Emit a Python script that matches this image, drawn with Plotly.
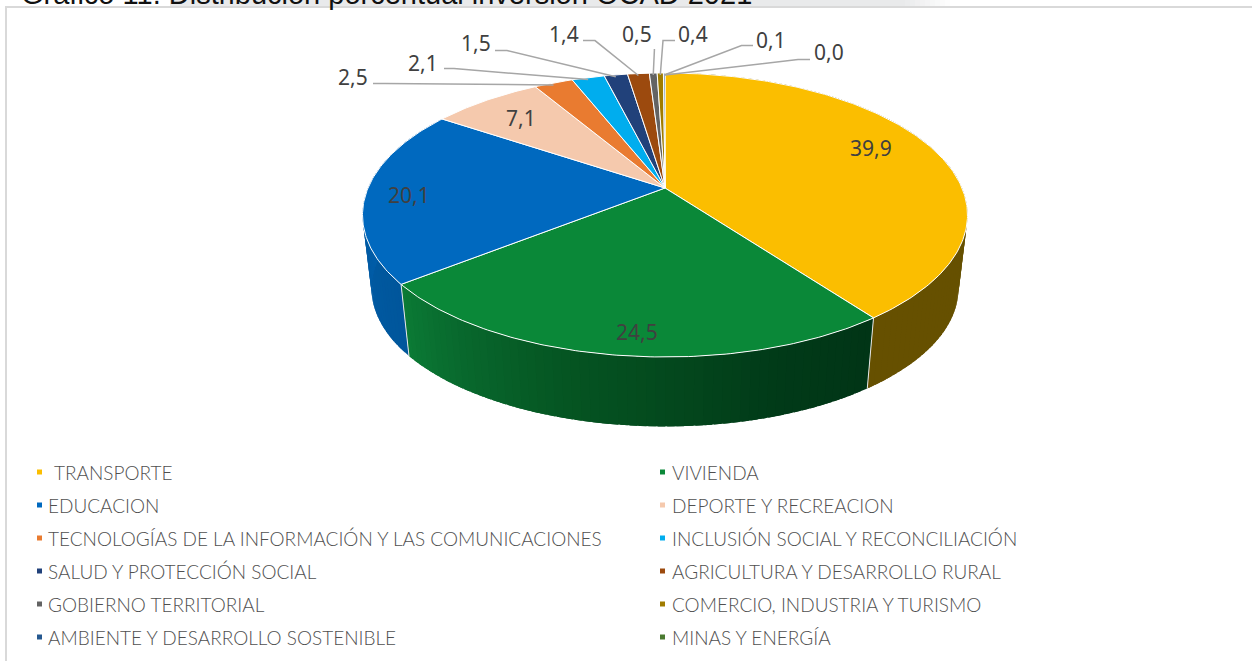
import math
import plotly.graph_objects as go

# ---------- data ----------
categories = [" TRANSPORTE", "VIVIENDA", "EDUCACION", "DEPORTE Y RECREACION",
              "TECNOLOGÍAS DE LA INFORMACIÓN Y LAS COMUNICACIONES",
              "INCLUSIÓN SOCIAL Y RECONCILIACIÓN", "SALUD Y PROTECCIÓN SOCIAL",
              "AGRICULTURA Y DESARROLLO RURAL", "GOBIERNO TERRITORIAL",
              "COMERCIO, INDUSTRIA Y TURISMO", "AMBIENTE Y DESARROLLO SOSTENIBLE",
              "MINAS Y ENERGÍA"]
values = [39.9, 24.5, 20.1, 7.1, 2.5, 2.1, 1.5, 1.4, 0.5, 0.4, 0.1, 0.0]
title_text = "Gráfico 11. Distribución porcentual inversión OCAD 2021"

# ---------- styles ----------
colors = ["#FBBE00", "#0A8838", "#0069BF", "#F5C9AD", "#E97B30", "#00ADEE",
          "#21417A", "#9C4A0E", "#636363", "#A07C00", "#25588F", "#4A7A30"]
side_stops = {0: ["#665000", "#665000"],
              1: ["#013516", "#013A18", "#03481D", "#055522", "#08662C", "#0B7A35"],
              2: ["#00569B", "#0063B3"]}
inner_label_pos = {0: (871, 148), 1: (637, 332), 2: (409, 195), 3: (521, 118)}
outer_label_pos = {4: (353, 77), 5: (423, 62.7), 6: (475.7, 43), 7: (563.5, 34.4),
                   8: (637, 34.4), 9: (692.6, 34.4), 10: (771, 39.6), 11: (829, 51.6)}
leader_elbows = {4: [(373, 83.5), (385, 83.5)], 5: [(444, 68.5), (454, 68.5)],
                 6: [(495, 50.6), (507, 50.6)], 7: [(583, 40.6), (595, 40.6)],
                 8: [(654.4, 49), (654.4, 50)], 9: [(675, 40.6), (663, 40.6)],
                 10: [(753, 45.5), (741.5, 45.5)], 11: [(810, 59.6), (798, 59.6)]}
CX, CY = 665.0, 188.0
K, A, B = 0.19, 136.9, 297.0
SIDE_SCALE, SIDE_CY = 0.97, 262.5


def project(deg, scale=1.0, cy=CY):
    t = math.radians(deg)
    u, v = math.sin(t), math.cos(t)
    w = 1 + K * v
    return CX + scale * B * u / w, cy - scale * A * v / w


def arc(a0, a1, scale=1.0, cy=CY):
    n = max(2, int(abs(a1 - a0) / 0.75) + 2)
    return [project(a0 + (a1 - a0) * i / (n - 1), scale, cy) for i in range(n)]


def mix(stops, f):
    f = min(max(f, 0), 1) * (len(stops) - 1)
    i = min(int(f), len(stops) - 2)
    g = f - i
    a = [int(stops[i][j:j + 2], 16) for j in (1, 3, 5)]
    b = [int(stops[i + 1][j:j + 2], 16) for j in (1, 3, 5)]
    return "#%02X%02X%02X" % tuple(round(x + (y - x) * g) for x, y in zip(a, b))


def poly(points, fill, line=None, width=0.0):
    return go.Scatter(x=[p[0] for p in points], y=[p[1] for p in points], mode="lines",
                      fill="toself", fillcolor=fill, hoverinfo="skip", showlegend=False,
                      line=dict(color=line or fill, width=width))


total = sum(values)
edges = [0.0]
for val in values:
    edges.append(edges[-1] + val / total * 360)

fig = go.Figure()

# side wall, drawn strip by strip; each strip overlaps the next one to hide seams
for i, stops in side_stops.items():
    a0, a1 = edges[i], edges[i + 1]
    n = max(2, int((a1 - a0) / 1.5))
    step = (a1 - a0) / n
    for s in range(n):
        p0 = a0 + step * s
        p1 = min(a1, p0 + step * 1.8)
        pts = arc(p0, p1) + arc(p1, p0, SIDE_SCALE, SIDE_CY)
        fig.add_trace(poly(pts, mix(stops, s / max(n - 1, 1))))
for i in (0, 1, 2):
    a = edges[i + 1]
    p, q = project(a), project(a, SIDE_SCALE, SIDE_CY)
    fig.add_trace(go.Scatter(x=[p[0], q[0]], y=[p[1], q[1]], mode="lines", showlegend=False,
                             hoverinfo="skip", line=dict(color="#E6E6E6", width=1)))

# top face
for i, col in enumerate(colors):
    if values[i] <= 0:
        continue
    pts = [(CX, CY)] + arc(edges[i], edges[i + 1]) + [(CX, CY)]
    fig.add_trace(poly(pts, col, "#FFFFFF", 1.0))

# leader lines: elbows from layout, end point from the slice's mid angle on the rim
for i, elbow in leader_elbows.items():
    end = project((edges[i] + edges[i + 1]) / 2)
    path = elbow + [(end[0], end[1] + 2)]
    fig.add_trace(go.Scatter(x=[p[0] for p in path], y=[p[1] for p in path], mode="lines",
                             showlegend=False, hoverinfo="skip",
                             line=dict(color="#A6A6A6", width=1.5)))

# legend bullets, two columns
leg_x = [39.5, 662.5]
txt_x = [46, 669.5]
leg_rows = [472 + 33 * r for r in range(6)]
fig.add_trace(go.Scatter(
    x=[leg_x[i % 2] for i in range(len(categories))],
    y=[leg_rows[i // 2] for i in range(len(categories))],
    mode="markers", hoverinfo="skip", showlegend=False,
    marker=dict(symbol="square", size=5, color=colors, line=dict(width=0))))

ann = []
for i, c in enumerate(categories):
    ann.append(dict(x=txt_x[i % 2] + (6 if c.startswith(" ") else 0), y=leg_rows[i // 2],
                    text=c.strip(), xanchor="left", yanchor="middle", showarrow=False,
                    font=dict(family="Lato Light, Lato", size=19, color="#505050")))
for pos_map in (inner_label_pos, outer_label_pos):
    for i, (x, y) in pos_map.items():
        ann.append(dict(x=x, y=y, text=("%.1f" % values[i]).replace(".", ","), xanchor="center",
                        yanchor="middle", showarrow=False,
                        font=dict(family="Noto Sans", size=21, color="#404040")))
ann.append(dict(xref="paper", yref="paper", x=19 / 1252, y=1 + 5.5 / 661, text=title_text,
                xanchor="left", yanchor="middle", showarrow=False,
                font=dict(family="Liberation Sans", size=29, color="#111111")))

band = [dict(type="rect", xref="x", yref="y", x0=170, x1=905, y0=0, y1=6.5,
             fillcolor="#E9EAEB", line_width=0, layer="below")]
for k in range(10):
    band.append(dict(type="rect", xref="x", yref="y", x0=905 + 5 * k, x1=910 + 5 * k, y0=0, y1=6.5,
                     fillcolor=mix(["#E9EAEB", "#FFFFFF"], (k + 1) / 10), line_width=0, layer="below"))

fig.update_layout(
    width=1252, height=661, margin=dict(l=0, r=0, t=0, b=0),
    paper_bgcolor="#FFFFFF", plot_bgcolor="#FFFFFF", showlegend=False,
    xaxis=dict(range=[0, 1252], visible=False, fixedrange=True),
    yaxis=dict(range=[661, 0], visible=False, fixedrange=True),
    annotations=ann,
    shapes=band + [
        dict(type="line", xref="x", yref="y", x0=5, x1=1252, y0=7, y1=7,
             line=dict(color="#D9D9D9", width=2), layer="below"),
        dict(type="line", xref="x", yref="y", x0=6, x1=6, y0=7, y1=661,
             line=dict(color="#D9D9D9", width=2), layer="below"),
    ],
)

fig.write_html("out.html", config={"displayModeBar": False},
               post_script="document.body.style.margin='0';document.body.style.overflow='hidden';")
